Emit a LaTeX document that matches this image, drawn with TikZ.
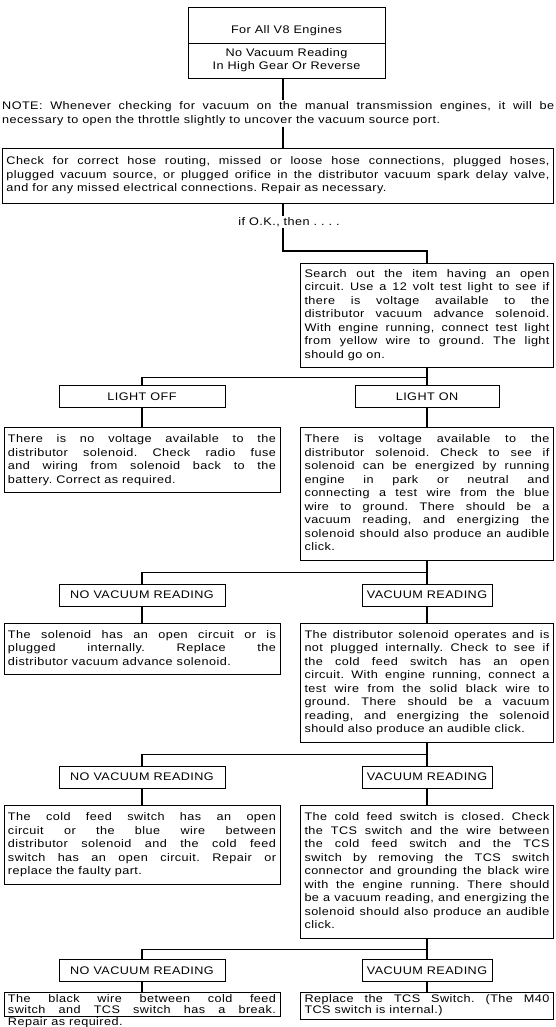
\documentclass[tikz,border=0pt]{standalone}
\usepackage{fontspec}
\setmainfont{Liberation Sans}[FakeStretch=1.15,LetterSpace=4]
\usetikzlibrary{calc}
\frenchspacing
\newcommand\jl[1]{\makebox[\linewidth][s]{\strut#1}\\}
\newcommand\tfont{\fontsize{11}{13.5}\selectfont\frenchspacing}
\newcommand\sfontsm{\fontsize{11}{11.5}\selectfont\frenchspacing}
\begin{document}
\begin{tikzpicture}[x=1pt,y=-1pt,
  ln/.style={line width=0.9pt},
  conn/.style={line width=1.1pt},
  txt/.style={font=\tfont,inner sep=1pt},
  tbox/.style={draw,ln,anchor=north,inner xsep=4pt,inner ysep=5.5pt,align=justify,font=\tfont},
  lastbox/.style={tbox,inner ysep=2pt,font=\sfontsm},
  lbl/.style={draw,ln,anchor=north,minimum height=22pt,inner sep=0pt,font=\tfont}]
\useasboundingbox (0,0) rectangle (556,1027);
\fill[white] (0,0) rectangle (556,1027);
\coordinate (mx) at (283,0);
\coordinate (lx) at (142,0);
\coordinate (rx) at (427,0);
% title
\node[draw,ln,minimum width=197pt,minimum height=71pt,inner sep=0pt,anchor=north west] (ttl) at (188,7) {};
\coordinate (sepl) at (188,43);
\coordinate (sepr) at (385,43);
\draw[ln] (sepl) -- (sepr);
\node[txt] (ttl1) at (286.5,31) {For All V8 Engines};
\node[txt,align=center] (ttl2) at (286.5,60) {No Vacuum Reading\\In High Gear Or Reverse};
% note
\node[txt,text width=552pt,inner sep=0pt,align=justify,anchor=north west] (note) at (2,100)
 {\jl{NOTE: Whenever checking for vacuum on the manual transmission engines, it will be}\strut necessary to open the throttle slightly to uncover the vacuum source port.};
% check box
\node[tbox,inner ysep=7pt,text width=543pt,anchor=north west] (chk) at (2,148)
 {\jl{Check for correct hose routing, missed or loose hose connections, plugged hoses,}\jl{plugged vacuum source, or plugged orifice in the distributor vacuum spark delay valve,}\strut and for any missed electrical connections. Repair as necessary.};
\node[txt] (ok) at (289,222) {if O.K., then . . . .};
% search box
\node[tbox,inner ysep=4.5pt,text width=245pt] (srch) at (427,263)
 {\jl{Search out the item having an open}\jl{circuit. Use a 12 volt test light to see if}\jl{there is voltage available to the}\jl{distributor vacuum advance solenoid.}\jl{With engine running, connect test light}\jl{from yellow wire to ground. The light}\strut should go on.};
\coordinate (c0) at ($(srch.north -| mx)+(0,-12)$);
\draw[conn] (ttl.south -| mx) -- (note.north -| mx);
\draw[conn] (note.south -| mx) -- (chk.north -| mx);
\draw[conn] (chk.south -| mx) -- (ok.north -| mx);
\draw[conn] (ok.south -| mx) -- (c0) -| (srch.north);
% row 1
\coordinate (s1) at ($(srch.south)+(0,10)$);
\path (s1 -| lx) ++(0,8) node[lbl,minimum width=166pt] (loff) {LIGHT OFF};
\path (s1 -| rx) ++(0,8) node[lbl,minimum width=144pt] (lon) {LIGHT ON};
\draw[conn] (srch.south) -- (s1) -| (loff.north);
\draw[conn] (s1) -- (lon.north);
\path (loff.south) ++(0,19) node[tbox,text width=268pt] (t1l)
 {\jl{There is no voltage available to the}\jl{distributor solenoid. Check radio fuse}\jl{and wiring from solenoid back to the}\strut battery. Correct as required.};
\path (lon.south) ++(0,19) node[tbox,text width=245pt] (t1r)
 {\jl{There is voltage available to the}\jl{distributor solenoid. Check to see if}\jl{solenoid can be energized by running}\jl{engine in park or neutral and}\jl{connecting a test wire from the blue}\jl{wire to ground. There should be a}\jl{vacuum reading, and energizing the}\jl{solenoid should also produce an audible}\strut click.};
\draw[conn] (loff.south) -- (t1l.north);
\draw[conn] (lon.south) -- (t1r.north);
% row 2
\coordinate (s2) at ($(t1r.south)+(0,12)$);
\path (s2 -| lx) ++(0,11) node[lbl,minimum width=166pt] (nv1) {NO VACUUM READING};
\path (s2 -| rx) ++(0,11) node[lbl,minimum width=130pt] (v1) {VACUUM READING};
\draw[conn] (t1r.south) -- (s2) -| (nv1.north);
\draw[conn] (s2) -- (v1.north);
\path (nv1.south) ++(0,16) node[tbox,text width=268pt] (t2l)
 {\jl{The solenoid has an open circuit or is}\jl{plugged internally. Replace the}\strut distributor vacuum advance solenoid.};
\path (v1.south) ++(0,16) node[tbox,text width=245pt] (t2r)
 {\jl{The distributor solenoid operates and is}\jl{not plugged internally. Check to see if}\jl{the cold feed switch has an open}\jl{circuit. With engine running, connect a}\jl{test wire from the solid black wire to}\jl{ground. There should be a vacuum}\jl{reading, and energizing the solenoid}\strut should also produce an audible click.};
\draw[conn] (nv1.south) -- (t2l.north);
\draw[conn] (v1.south) -- (t2r.north);
% row 3
\coordinate (s3) at ($(t2r.south)+(0,12)$);
\path (s3 -| lx) ++(0,11) node[lbl,minimum width=166pt] (nv2) {NO VACUUM READING};
\path (s3 -| rx) ++(0,11) node[lbl,minimum width=130pt] (v2) {VACUUM READING};
\draw[conn] (t2r.south) -- (s3) -| (nv2.north);
\draw[conn] (s3) -- (v2.north);
\path (nv2.south) ++(0,17) node[tbox,text width=268pt] (t3l)
 {\jl{The cold feed switch has an open}\jl{circuit or the blue wire between}\jl{distributor solenoid and the cold feed}\jl{switch has an open circuit. Repair or}\strut replace the faulty part.};
\path (v2.south) ++(0,17) node[tbox,text width=245pt] (t3r)
 {\jl{The cold feed switch is closed. Check}\jl{the TCS switch and the wire between}\jl{the cold feed switch and the TCS}\jl{switch by removing the TCS switch}\jl{connector and grounding the black wire}\jl{with the engine running. There should}\jl{be a vacuum reading, and energizing the}\jl{solenoid should also produce an audible}\strut click.};
\draw[conn] (nv2.south) -- (t3l.north);
\draw[conn] (v2.south) -- (t3r.north);
% row 4
\coordinate (s4) at ($(t3r.south)+(0,11)$);
\path (s4 -| lx) ++(0,9) node[lbl,minimum width=166pt] (nv3) {NO VACUUM READING};
\path (s4 -| rx) ++(0,9) node[lbl,minimum width=130pt] (v3) {VACUUM READING};
\draw[conn] (t3r.south) -- (s4) -| (nv3.north);
\draw[conn] (s4) -- (v3.north);
\path (nv3.south) ++(0,10) node[lastbox,text width=268pt,text depth=12pt] (t4l)
 {\jl{The black wire between cold feed}\jl{switch and TCS switch has a break.}\strut Repair as required.};
\path (v3.south) ++(0,10) node[lastbox,text width=245pt] (t4r)
 {\jl{Replace the TCS Switch. (The M40}\strut TCS switch is internal.)};
\draw[conn] (nv3.south) -- (t4l.north);
\draw[conn] (v3.south) -- (t4r.north);
\end{tikzpicture}
\end{document}
